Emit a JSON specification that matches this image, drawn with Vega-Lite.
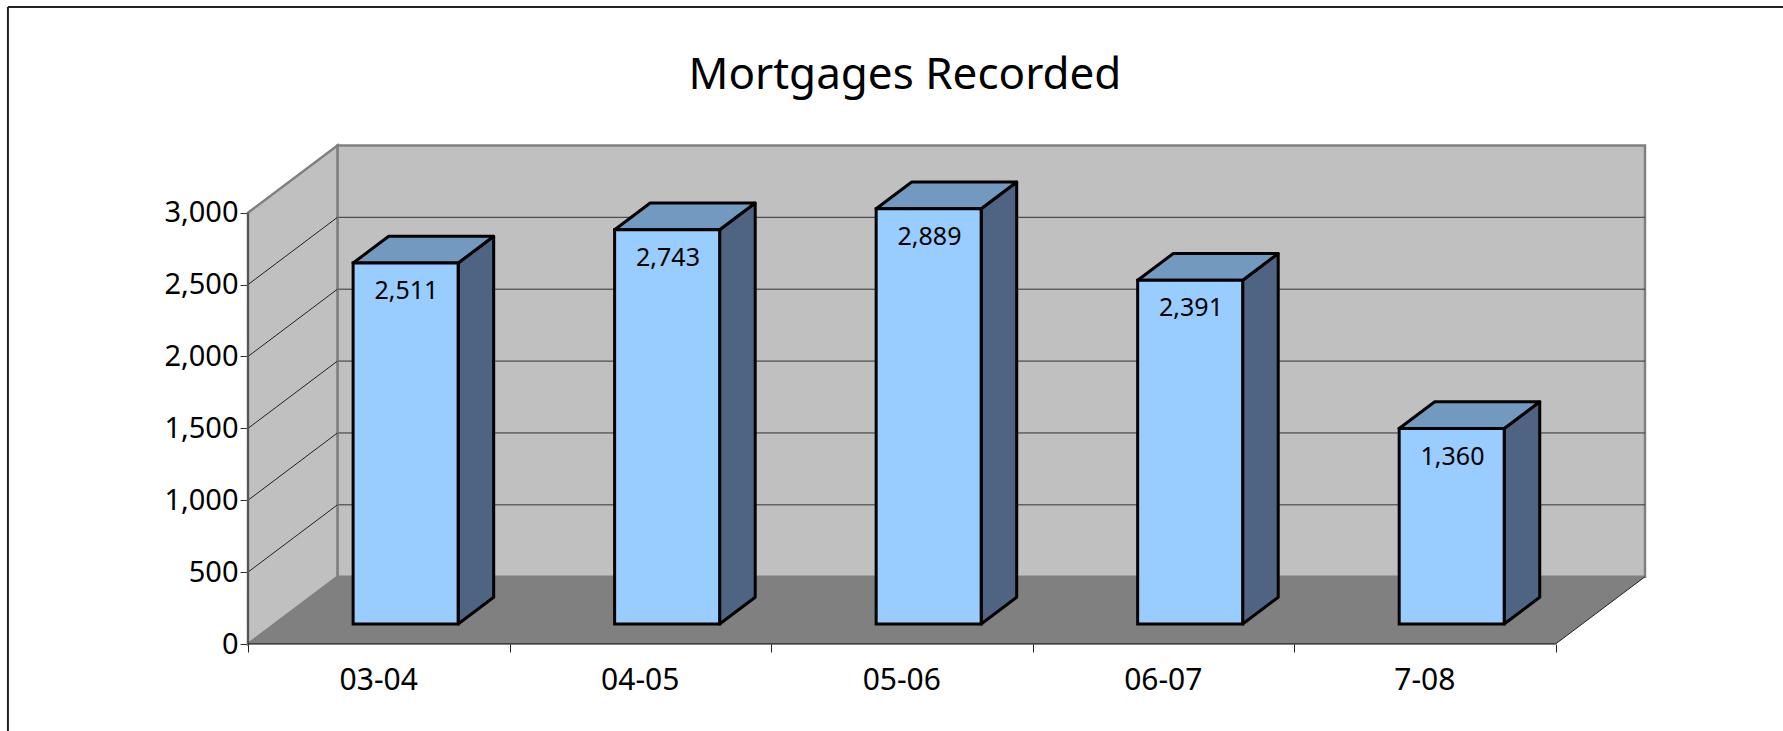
{
"$schema":"https://vega.github.io/schema/vega-lite/v6.json",
"width":1397,"height":500,
"autosize":{"type":"none"},
"padding":{"left":248,"top":144,"right":138,"bottom":87},
"background":"white",
"config":{"view":{"stroke":null},"font":"Noto Sans"},
"datasets":{
"bars":[{"period":"03-04","value":2511},{"period":"04-05","value":2743},{"period":"05-06","value":2889},{"period":"06-07","value":2391},{"period":"7-08","value":1360}],
"grid":[{"tick":500,"back":968},{"tick":1000,"back":1468},{"tick":1500,"back":1968},{"tick":2000,"back":2468},{"tick":2500,"back":2968}],
"sideWall":[{"along":0,"low":0,"high":3000},{"along":0.342,"low":468,"high":3468}],
"floor":[{"level":0,"from":0,"to":5},{"level":468,"from":0.342,"to":5.342}]
},
"encoding":{
"x":{"type":"quantitative","scale":{"domain":[0,5.342],"nice":false,"zero":false},"axis":{"values":[0,1,2,3,4,5],"title":null,"labels":false,"domain":false,"grid":false,"tickSize":8,"tickColor":"#222222","tickWidth":1}},
"y":{"type":"quantitative","scale":{"domain":[0,3478],"nice":false,"zero":false},"axis":{"values":[0,500,1000,1500,2000,2500,3000],"format":",d","title":null,"domain":false,"grid":false,"tickSize":8,"tickColor":"#333333","tickWidth":1,"labelFontSize":29,"labelFont":"Noto Sans","labelColor":"black","labelPadding":2}}
},
"layer":[
{"data":{"values":[{}]},"mark":{"type":"rect","fill":"#C0C0C0","stroke":"#808080","strokeWidth":2.5},
 "encoding":{"x":{"datum":0.342},"x2":{"datum":5.342},"y":{"datum":468},"y2":{"datum":3468}}},
{"data":{"name":"grid"},"mark":{"type":"rule","color":"#333333","strokeWidth":1},
 "encoding":{"x":{"datum":0.342},"x2":{"datum":5.342},"y":{"field":"back"}}},
{"data":{"name":"sideWall"},"mark":{"type":"area","fill":"#C0C0C0","stroke":"#808080","strokeWidth":2.5},
 "encoding":{"x":{"field":"along"},"y":{"field":"low","stack":null},"y2":{"field":"high"}}},
{"data":{"name":"grid"},"mark":{"type":"rule","color":"#222222","strokeWidth":1},
 "encoding":{"x":{"datum":0},"x2":{"datum":0.342},"y":{"field":"tick"},"y2":{"field":"back"}}},
{"data":{"name":"floor"},"mark":{"type":"area","orient":"horizontal","fill":"#808080"},
 "encoding":{"y":{"field":"level"},"x":{"field":"from","stack":null},"x2":{"field":"to"}}},
{"data":{"values":[{}]},"mark":{"type":"rule","color":"#555555","strokeWidth":2},
 "encoding":{"x":{"datum":0},"y":{"datum":0},"y2":{"datum":3000}}},
{"data":{"values":[{}]},"mark":{"type":"rule","color":"black","strokeWidth":1},
 "encoding":{"x":{"datum":0},"x2":{"datum":5},"y":{"datum":0}}},
{"data":{"values":[{}]},"mark":{"type":"rule","color":"#222222","strokeWidth":1},
 "encoding":{"x":{"datum":5},"x2":{"datum":5.342},"y":{"datum":0},"y2":{"datum":468}}},
{"data":{"name":"bars"},
 "transform":[{"window":[{"op":"row_number","as":"n"}]},{"calculate":"[0,1]","as":"corner"},{"flatten":["corner"]},
  {"calculate":"datum.n-1+0.8035+datum.corner*0.136","as":"xs"},
  {"calculate":"139+datum.corner*186","as":"yb"},
  {"calculate":"139+datum.value+datum.corner*186","as":"yt"}],
 "mark":{"type":"area","fill":"#4F6482","stroke":"black","strokeWidth":3,"strokeJoin":"round"},
 "encoding":{"detail":{"field":"period"},"x":{"field":"xs"},"y":{"field":"yb","stack":null},"y2":{"field":"yt"}}},
{"data":{"name":"bars"},
 "transform":[{"window":[{"op":"row_number","as":"n"}]},{"calculate":"[0,1]","as":"corner"},{"flatten":["corner"]},
  {"calculate":"datum.n-1+0.402+datum.corner*0.136","as":"xl"},
  {"calculate":"datum.n-1+0.8035+datum.corner*0.136","as":"xr"},
  {"calculate":"139+datum.value+datum.corner*186","as":"yt"}],
 "mark":{"type":"area","orient":"horizontal","fill":"#7299BF","stroke":"black","strokeWidth":3,"strokeJoin":"round"},
 "encoding":{"detail":{"field":"period"},"y":{"field":"yt"},"x":{"field":"xl","stack":null},"x2":{"field":"xr"}}},
{"data":{"name":"bars"},
 "transform":[{"window":[{"op":"row_number","as":"n"}]},
  {"calculate":"datum.n-1+0.402","as":"xl"},{"calculate":"datum.n-1+0.8035","as":"xr"},
  {"calculate":"139+datum.value","as":"yt"},{"calculate":"139","as":"yb"}],
 "mark":{"type":"rect","fill":"#99CCFF","stroke":"black","strokeWidth":3,"strokeJoin":"miter"},
 "encoding":{"x":{"field":"xl"},"x2":{"field":"xr"},"y":{"field":"yb"},"y2":{"field":"yt"}}},
{"data":{"name":"bars"},
 "transform":[{"window":[{"op":"row_number","as":"n"}]},
  {"calculate":"datum.n-1+0.606","as":"xc"},{"calculate":"139+datum.value","as":"yt"}],
 "mark":{"type":"text","fontSize":25,"font":"Noto Sans","color":"black","baseline":"middle","align":"center","dy":28},
 "encoding":{"x":{"field":"xc"},"y":{"field":"yt"},"text":{"field":"value","format":",d"}}},
{"data":{"name":"bars"},
 "transform":[{"window":[{"op":"row_number","as":"n"}]},{"calculate":"datum.n-0.5","as":"xc"}],
 "mark":{"type":"text","fontSize":30,"font":"Noto Sans","color":"black","baseline":"middle","align":"center","dy":37},
 "encoding":{"x":{"field":"xc"},"y":{"datum":0},"text":{"field":"period"}}},
{"data":{"values":[{"label":"Mortgages Recorded"}]},
 "mark":{"type":"text","fontSize":44,"font":"Noto Sans","color":"black","baseline":"alphabetic","align":"center"},
 "encoding":{"x":{"datum":2.512},"y":{"datum":3860},"text":{"field":"label"}}},
{"data":{"values":[{}]},"mark":{"type":"rule","color":"#222222","strokeWidth":2},
 "encoding":{"x":{"datum":-0.918},"x2":{"datum":5.9},"y":{"datum":4431}}},
{"data":{"values":[{}]},"mark":{"type":"rule","color":"#222222","strokeWidth":2},
 "encoding":{"x":{"datum":-0.918},"y":{"datum":4431},"y2":{"datum":-610}}}
]
}
